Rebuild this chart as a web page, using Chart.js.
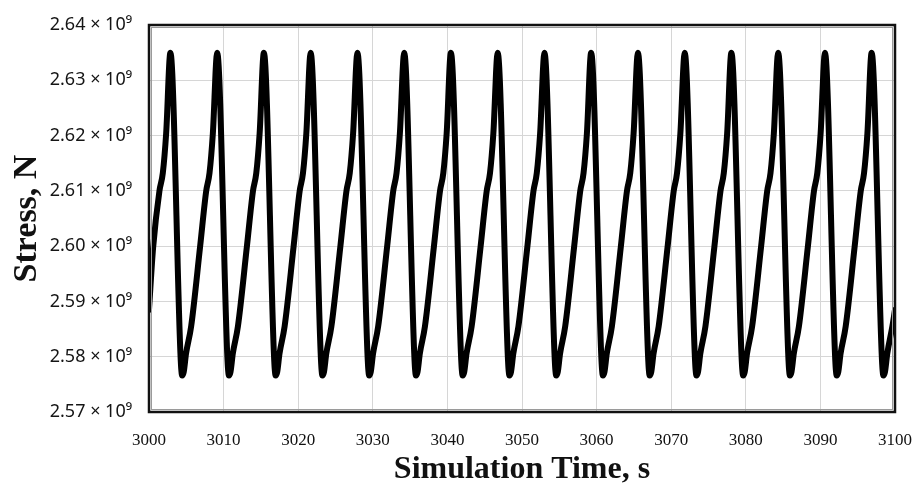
<!DOCTYPE html>
<html><head><meta charset="utf-8">
<script src="https://cdn.jsdelivr.net/npm/chart.js@4.4.1/dist/chart.umd.min.js"></script>
<style>html,body{margin:0;padding:0;background:#fff}#wrap{width:913px;height:494px;position:relative}</style>
</head><body><div id="wrap"><canvas id="c"></canvas></div>
<script>
// Simulation time (s)
const timeS = [
  3000.00, 3000.55, 3001.40, 3001.85, 3002.30,
  3002.87, 3004.25, 3004.45, 3004.65, 3004.97, 3005.65, 3006.85, 3007.67, 3008.11, 3008.56,
  3009.14, 3010.52, 3010.72, 3010.92, 3011.24, 3011.92, 3013.12, 3013.94, 3014.38, 3014.83,
  3015.40, 3016.78, 3016.98, 3017.18, 3017.50, 3018.18, 3019.38, 3020.20, 3020.64, 3021.09,
  3021.67, 3023.05, 3023.25, 3023.45, 3023.77, 3024.45, 3025.65, 3026.47, 3026.91, 3027.36,
  3027.94, 3029.32, 3029.52, 3029.72, 3030.04, 3030.72, 3031.92, 3032.74, 3033.18, 3033.63,
  3034.21, 3035.59, 3035.79, 3035.99, 3036.31, 3036.99, 3038.19, 3039.01, 3039.45, 3039.90,
  3040.47, 3041.85, 3042.05, 3042.25, 3042.57, 3043.25, 3044.45, 3045.27, 3045.71, 3046.16,
  3046.74, 3048.12, 3048.32, 3048.52, 3048.84, 3049.52, 3050.72, 3051.54, 3051.98, 3052.43,
  3053.01, 3054.39, 3054.59, 3054.79, 3055.11, 3055.79, 3056.99, 3057.81, 3058.25, 3058.70,
  3059.27, 3060.65, 3060.85, 3061.05, 3061.37, 3062.05, 3063.25, 3064.07, 3064.51, 3064.96,
  3065.54, 3066.92, 3067.12, 3067.32, 3067.64, 3068.32, 3069.52, 3070.34, 3070.78, 3071.23,
  3071.81, 3073.19, 3073.39, 3073.59, 3073.91, 3074.59, 3075.79, 3076.61, 3077.05, 3077.50,
  3078.07, 3079.45, 3079.65, 3079.85, 3080.17, 3080.85, 3082.05, 3082.87, 3083.31, 3083.76,
  3084.34, 3085.72, 3085.92, 3086.12, 3086.44, 3087.12, 3088.32, 3089.14, 3089.58, 3090.03,
  3090.61, 3091.99, 3092.19, 3092.39, 3092.71, 3093.39, 3094.59, 3095.41, 3095.85, 3096.30,
  3096.87, 3098.25, 3098.45, 3098.65, 3098.97, 3099.65, 3100.00
];
// Stress in units of 10^9 N
const stressGN = [
  2.5885, 2.5997, 2.6100, 2.6132, 2.6204,
  2.6350, 2.5795, 2.5766, 2.5772, 2.5806, 2.5855, 2.5999, 2.6100, 2.6132, 2.6204,
  2.6350, 2.5795, 2.5766, 2.5772, 2.5806, 2.5855, 2.5999, 2.6100, 2.6132, 2.6204,
  2.6350, 2.5795, 2.5766, 2.5772, 2.5806, 2.5855, 2.5999, 2.6100, 2.6132, 2.6204,
  2.6350, 2.5795, 2.5766, 2.5772, 2.5806, 2.5855, 2.5999, 2.6100, 2.6132, 2.6204,
  2.6350, 2.5795, 2.5766, 2.5772, 2.5806, 2.5855, 2.5999, 2.6100, 2.6132, 2.6204,
  2.6350, 2.5795, 2.5766, 2.5772, 2.5806, 2.5855, 2.5999, 2.6100, 2.6132, 2.6204,
  2.6350, 2.5795, 2.5766, 2.5772, 2.5806, 2.5855, 2.5999, 2.6100, 2.6132, 2.6204,
  2.6350, 2.5795, 2.5766, 2.5772, 2.5806, 2.5855, 2.5999, 2.6100, 2.6132, 2.6204,
  2.6350, 2.5795, 2.5766, 2.5772, 2.5806, 2.5855, 2.5999, 2.6100, 2.6132, 2.6204,
  2.6350, 2.5795, 2.5766, 2.5772, 2.5806, 2.5855, 2.5999, 2.6100, 2.6132, 2.6204,
  2.6350, 2.5795, 2.5766, 2.5772, 2.5806, 2.5855, 2.5999, 2.6100, 2.6132, 2.6204,
  2.6350, 2.5795, 2.5766, 2.5772, 2.5806, 2.5855, 2.5999, 2.6100, 2.6132, 2.6204,
  2.6350, 2.5795, 2.5766, 2.5772, 2.5806, 2.5855, 2.5999, 2.6100, 2.6132, 2.6204,
  2.6350, 2.5795, 2.5766, 2.5772, 2.5806, 2.5855, 2.5999, 2.6100, 2.6132, 2.6204,
  2.6350, 2.5795, 2.5766, 2.5772, 2.5806, 2.5855, 2.5999, 2.6100, 2.6132, 2.6204,
  2.6350, 2.5795, 2.5766, 2.5772, 2.5806, 2.5855, 2.5885
];
const xTickValues = [3000, 3010, 3020, 3030, 3040, 3050, 3060, 3070, 3080, 3090, 3100];
const yTickValues = [2.57, 2.58, 2.59, 2.60, 2.61, 2.62, 2.63, 2.64];
const yTickLabels = ['2.57 × 10⁹', '2.58 × 10⁹', '2.59 × 10⁹', '2.60 × 10⁹', '2.61 × 10⁹', '2.62 × 10⁹', '2.63 × 10⁹', '2.64 × 10⁹'];
const xTitle = 'Simulation Time, s';
const yTitle = 'Stress, N';

const points = timeS.map((t, i) => ({x: t, y: stressGN[i]}));

const framePlugin = {
  id: 'frame',
  afterDatasetsDraw(chart) {
    const {ctx, chartArea: {left, top, right, bottom}} = chart;
    ctx.save();
    ctx.strokeStyle = '#9a9a9a';
    ctx.lineWidth = 1;
    ctx.strokeRect(left + 2.5, top + 2.5, right - left - 5, bottom - top - 5);
    ctx.strokeStyle = '#111';
    ctx.lineWidth = 2.5;
    ctx.strokeRect(left, top, right - left, bottom - top);
    ctx.restore();
  }
};

new Chart(document.getElementById('c'), {
  type: 'line',
  data: {
    datasets: [{
      data: points,
      borderColor: '#000',
      borderWidth: 6,
      pointRadius: 0,
      tension: 0,
      cubicInterpolationMode: 'monotone',
      borderJoinStyle: 'round',
      borderCapStyle: 'round',
      clip: 0,
      fill: false
    }]
  },
  options: {
    responsive: true,
    maintainAspectRatio: false,
    animation: false,
    layout: {padding: {top: 25, right: 18, left: 0, bottom: 0}},
    plugins: {legend: {display: false}, tooltip: {enabled: false}},
    scales: {
      x: {
        type: 'linear',
        min: 3000, max: 3100,
        afterBuildTicks: s => { s.ticks = xTickValues.map(v => ({value: v})); },
        afterFit: s => { s.height = 82; s.paddingLeft = 0; s.paddingRight = 0; },
        grid: {color: '#d6d6d6', lineWidth: 1, drawTicks: false},
        border: {display: false},
        ticks: {
          padding: 18,
          color: '#111',
          font: {family: 'Liberation Serif', size: 17},
          maxRotation: 0,
          callback: v => String(v)
        },
        title: {
          display: true, text: xTitle, color: '#111',
          font: {family: 'Liberation Serif', size: 32, weight: 'bold'},
          padding: {top: 0, bottom: 5}
        }
      },
      y: {
        type: 'linear',
        min: 2.57, max: 2.64,
        afterBuildTicks: s => { s.ticks = yTickValues.map(v => ({value: v})); },
        afterFit: s => { s.width = 149; s.paddingTop = 0; s.paddingBottom = 0; },
        grid: {color: '#d6d6d6', lineWidth: 1, drawTicks: false},
        border: {display: false},
        ticks: {
          padding: 17,
          color: '#151515',
          font: {family: 'Noto Sans', size: 18},
          callback: (v) => {
            const i = yTickValues.findIndex(t => Math.abs(t - v) < 1e-6);
            return i >= 0 ? yTickLabels[i] : '';
          }
        },
        title: {
          display: true, text: yTitle, color: '#111',
          font: {family: 'Liberation Serif', size: 34, weight: 'bold'},
          padding: {top: 7, bottom: 0}
        }
      }
    }
  },
  plugins: [framePlugin]
});
</script>
</body></html>
